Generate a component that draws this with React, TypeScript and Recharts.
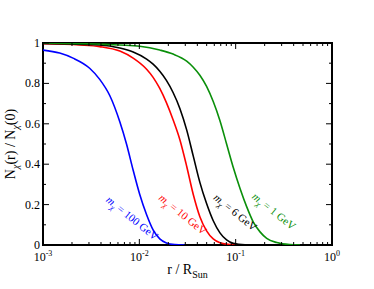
import { LineChart, Line, XAxis, YAxis, ReferenceArea, ReferenceDot, Label } from "recharts";

// r / R_Sun samples and N(r)/N(0), one pair of arrays per mass
const blueR = [0.001, 0.00149, 0.00205, 0.00305, 0.00388, 0.00493, 0.00627, 0.00736, 0.00863, 0.0101, 0.0119, 0.0139, 0.0163, 0.0191, 0.0233, 0.0295];
const blueN = [0.965, 0.95, 0.925, 0.875, 0.82, 0.74, 0.61, 0.5, 0.37, 0.25, 0.15, 0.075, 0.03, 0.01, 0.002, 0];

const redR = [0.001, 0.0024, 0.00388, 0.00627, 0.00863, 0.0119, 0.0139, 0.0163, 0.0191, 0.0224, 0.0264, 0.031, 0.0363, 0.0425, 0.0499, 0.0585, 0.0687, 0.0873, 0.111];
const redN = [0.996, 0.99, 0.982, 0.96, 0.925, 0.87, 0.83, 0.775, 0.705, 0.62, 0.52, 0.39, 0.25, 0.14, 0.07, 0.03, 0.011, 0.002, 0];

const blackR = [0.001, 0.00388, 0.00627, 0.00863, 0.0119, 0.0139, 0.0163, 0.0191, 0.0224, 0.0264, 0.031, 0.0363, 0.0425, 0.0499, 0.0585, 0.0687, 0.0805, 0.0943, 0.125, 0.16];
const blackN = [0.998, 0.99, 0.975, 0.955, 0.92, 0.895, 0.86, 0.815, 0.755, 0.675, 0.57, 0.44, 0.31, 0.205, 0.12, 0.06, 0.025, 0.008, 0.001, 0];

const greenR = [0.001, 0.00627, 0.0101, 0.0163, 0.0224, 0.031, 0.0363, 0.0425, 0.0499, 0.0585, 0.0687, 0.0805, 0.0943, 0.111, 0.13, 0.152, 0.179, 0.21, 0.267, 0.366, 0.466];
const greenN = [1.0, 0.99, 0.984, 0.965, 0.945, 0.91, 0.88, 0.84, 0.785, 0.71, 0.615, 0.5, 0.385, 0.28, 0.19, 0.115, 0.065, 0.033, 0.012, 0.002, 0];

const xTicks = [
  0.001, 0.002, 0.003, 0.004, 0.005, 0.006, 0.007, 0.008, 0.009,
  0.01, 0.02, 0.03, 0.04, 0.05, 0.06, 0.07, 0.08, 0.09,
  0.1, 0.2, 0.3, 0.4, 0.5, 0.6, 0.7, 0.8, 0.9, 1,
];
const xMajor = [0.001, 0.01, 0.1, 1];
const yTicks = [0, 0.1, 0.2, 0.3, 0.4, 0.5, 0.6, 0.7, 0.8, 0.9, 1];

// label anchors (data coords) for the mass annotations
const labels = [
  { r: 0.00796, n: 0.119, mass: "100", color: "#0000ff" },
  { r: 0.0267, n: 0.138, mass: "10", color: "#ff0000" },
  { r: 0.0937, n: 0.148, mass: "6", color: "#000000" },
  { r: 0.236, n: 0.153, mass: "1", color: "#0a8f0a" },
];

const zip = (rs: number[], ns: number[]) => rs.map((r, i) => ({ r, n: ns[i] }));

const W = 374;
const H = 289;
const M = { top: 43, right: 42, bottom: 0, left: 0 };
const Y_W = 43;
const X_H = 44;
const PW = W - M.right - Y_W;
const PH = H - M.top - X_H;
const FONT = "'Liberation Serif', 'DejaVu Serif', serif";

const XTick = (props: any) => {
  const { x, y, payload } = props;
  const v = payload.value;
  const major = xMajor.some((m) => Math.abs(m - v) < 1e-9);
  const len = major ? 6 : 3;
  const exp = Math.round(Math.log10(v));
  return (
    <g>
      <line x1={x} x2={x} y1={y} y2={y - len} stroke="#000" strokeWidth={1} />
      <line x1={x} x2={x} y1={y - PH} y2={y - PH + len} stroke="#000" strokeWidth={1} />
      {major && (
        <text x={x} y={y + 16} textAnchor="middle" fontSize={12} fontFamily={FONT} fill="#000">
          10
          <tspan dy={-5} fontSize={8}>{exp}</tspan>
        </text>
      )}
    </g>
  );
};

const YTick = (props: any) => {
  const { x, y, payload } = props;
  const v = payload.value;
  const major = Math.round(v * 10) % 2 === 0;
  const len = major ? 6 : 3;
  const txt = v === 0 ? "0" : v === 1 ? "1" : v.toFixed(1);
  return (
    <g>
      <line x1={x} x2={x + len} y1={y} y2={y} stroke="#000" strokeWidth={1} />
      <line x1={x + PW} x2={x + PW - len} y1={y} y2={y} stroke="#000" strokeWidth={1} />
      {major && (
        <text x={x - 3} y={y + 4} textAnchor="end" fontSize={12} fontFamily={FONT} fill="#000">
          {txt}
        </text>
      )}
    </g>
  );
};

const XTitle = (props: any) => {
  const { viewBox } = props;
  const cx = viewBox.x + viewBox.width / 2;
  return (
    <text x={cx} y={viewBox.y + 29} textAnchor="middle" fontSize={14} fontFamily={FONT} fill="#000">
      r / R
      <tspan dy={4} fontSize={10}>Sun</tspan>
    </text>
  );
};

const YTitle = (props: any) => {
  const { viewBox } = props;
  const cy = viewBox.y + viewBox.height / 2;
  const bx = 15;
  return (
    <text
      x={bx}
      y={cy}
      transform={`rotate(-90, ${bx}, ${cy})`}
      textAnchor="middle"
      fontSize={14}
      fontFamily={FONT}
      fill="#000"
    >
      N
      <tspan dy={4} fontSize={10} fontStyle="italic">χ</tspan>
      <tspan dy={-4}>(r) / N</tspan>
      <tspan dy={4} fontSize={10} fontStyle="italic">χ</tspan>
      <tspan dy={-4}>(0)</tspan>
    </text>
  );
};

const MassLabel = (color: string, mass: string) => (props: any) => {
  const { cx, cy } = props;
  return (
    <text
      x={cx}
      y={cy}
      transform={`rotate(39, ${cx}, ${cy})`}
      textAnchor="middle"
      fontSize={11}
      fontFamily={FONT}
      fill={color}
    >
      <tspan fontStyle="italic">m</tspan>
      <tspan dy={3} fontSize={8} fontStyle="italic">χ</tspan>
      <tspan dy={-3}>{` = ${mass} GeV`}</tspan>
    </text>
  );
};

export default function App() {
  return (
    <div style={{ position: "absolute", left: 0, top: 0, background: "#fff" }}>
      <LineChart width={W} height={H} margin={M}>
        <XAxis
          dataKey="r"
          type="number"
          scale="log"
          domain={[0.001, 1]}
          allowDataOverflow
          ticks={xTicks}
          interval={0}
          tick={<XTick />}
          tickLine={false}
          axisLine={false}
          tickSize={0}
          tickMargin={0}
          height={X_H}
          label={<Label content={<XTitle />} />}
        />
        <YAxis
          type="number"
          domain={[0, 1]}
          allowDataOverflow
          ticks={yTicks}
          interval={0}
          tick={<YTick />}
          tickLine={false}
          axisLine={false}
          tickSize={0}
          tickMargin={0}
          width={Y_W}
          label={<Label content={<YTitle />} />}
        />
        <ReferenceArea x1={0.001} x2={1} y1={0} y2={1} fill="none" stroke="#000" strokeWidth={2} />
        <Line data={zip(blueR, blueN)} dataKey="n" type="monotone" stroke="#0000ff" strokeWidth={1.6} dot={false} isAnimationActive={false} />
        <Line data={zip(redR, redN)} dataKey="n" type="monotone" stroke="#ff0000" strokeWidth={1.6} dot={false} isAnimationActive={false} />
        <Line data={zip(blackR, blackN)} dataKey="n" type="monotone" stroke="#000000" strokeWidth={1.6} dot={false} isAnimationActive={false} />
        <Line data={zip(greenR, greenN)} dataKey="n" type="monotone" stroke="#0a8f0a" strokeWidth={1.6} dot={false} isAnimationActive={false} />
        {labels.map((l) => (
          <ReferenceDot key={l.mass} x={l.r} y={l.n} r={0} shape={MassLabel(l.color, l.mass)} />
        ))}
      </LineChart>
    </div>
  );
}
